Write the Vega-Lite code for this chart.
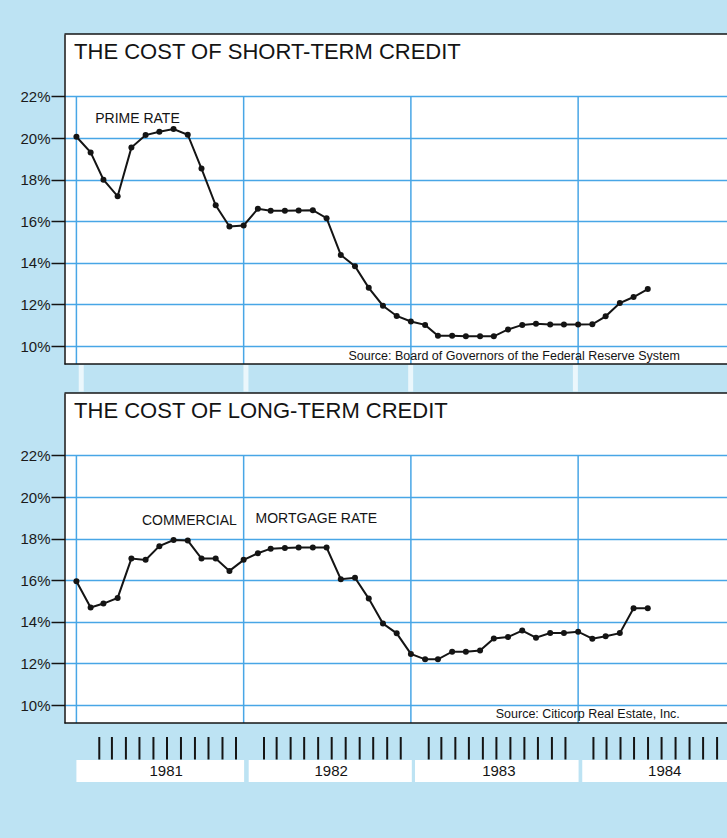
{
  "$schema": "https://vega.github.io/schema/vega-lite/v6.json",
  "background": "#bde3f3",
  "padding": {"left": 19.5, "top": 33, "right": 0, "bottom": 58},
  "config": {
    "view": {"stroke": null},
    "font": "Liberation Sans",
    "text": {"font": "Liberation Sans", "color": "#141414"}
  },
  "datasets": {
    "rates": [
      {"date": "1981-01-01", "prime": 20.06, "mortgage": 15.95},
      {"date": "1981-02-01", "prime": 19.31, "mortgage": 14.69},
      {"date": "1981-03-01", "prime": 18.0, "mortgage": 14.88},
      {"date": "1981-04-01", "prime": 17.2, "mortgage": 15.15},
      {"date": "1981-05-01", "prime": 19.54, "mortgage": 17.04},
      {"date": "1981-06-01", "prime": 20.14, "mortgage": 16.98},
      {"date": "1981-07-01", "prime": 20.3, "mortgage": 17.64},
      {"date": "1981-08-01", "prime": 20.43, "mortgage": 17.93},
      {"date": "1981-09-01", "prime": 20.16, "mortgage": 17.91},
      {"date": "1981-10-01", "prime": 18.53, "mortgage": 17.04},
      {"date": "1981-11-01", "prime": 16.77, "mortgage": 17.04},
      {"date": "1981-12-01", "prime": 15.75, "mortgage": 16.45},
      {"date": "1982-01-01", "prime": 15.8, "mortgage": 16.98},
      {"date": "1982-02-01", "prime": 16.6, "mortgage": 17.3},
      {"date": "1982-03-01", "prime": 16.5, "mortgage": 17.52},
      {"date": "1982-04-01", "prime": 16.5, "mortgage": 17.55},
      {"date": "1982-05-01", "prime": 16.52, "mortgage": 17.57},
      {"date": "1982-06-01", "prime": 16.53, "mortgage": 17.57},
      {"date": "1982-07-01", "prime": 16.15, "mortgage": 17.57},
      {"date": "1982-08-01", "prime": 14.38, "mortgage": 16.05},
      {"date": "1982-09-01", "prime": 13.84, "mortgage": 16.12},
      {"date": "1982-10-01", "prime": 12.8, "mortgage": 15.12},
      {"date": "1982-11-01", "prime": 11.94, "mortgage": 13.92},
      {"date": "1982-12-01", "prime": 11.45, "mortgage": 13.45},
      {"date": "1983-01-01", "prime": 11.18, "mortgage": 12.46},
      {"date": "1983-02-01", "prime": 11.02, "mortgage": 12.2},
      {"date": "1983-03-01", "prime": 10.5, "mortgage": 12.2},
      {"date": "1983-04-01", "prime": 10.5, "mortgage": 12.57},
      {"date": "1983-05-01", "prime": 10.47, "mortgage": 12.57},
      {"date": "1983-06-01", "prime": 10.47, "mortgage": 12.62},
      {"date": "1983-07-01", "prime": 10.47, "mortgage": 13.2},
      {"date": "1983-08-01", "prime": 10.8, "mortgage": 13.27},
      {"date": "1983-09-01", "prime": 11.02, "mortgage": 13.58},
      {"date": "1983-10-01", "prime": 11.07, "mortgage": 13.24},
      {"date": "1983-11-01", "prime": 11.04, "mortgage": 13.46},
      {"date": "1983-12-01", "prime": 11.04, "mortgage": 13.46},
      {"date": "1984-01-01", "prime": 11.04, "mortgage": 13.53},
      {"date": "1984-02-01", "prime": 11.05, "mortgage": 13.19},
      {"date": "1984-03-01", "prime": 11.43, "mortgage": 13.31},
      {"date": "1984-04-01", "prime": 12.07, "mortgage": 13.46},
      {"date": "1984-05-01", "prime": 12.36, "mortgage": 14.66},
      {"date": "1984-06-01", "prime": 12.74, "mortgage": 14.66}
    ],
    "years": [
      {"date": "1981-01-01"},
      {"date": "1982-01-01"},
      {"date": "1983-01-01"},
      {"date": "1984-01-01"}
    ],
    "boxes": [
      {"year": "1981", "start": "1981-01-01", "end": "1982-01-02", "mid": "1981-07-16"},
      {"year": "1982", "start": "1982-01-12", "end": "1983-01-03", "mid": "1982-07-11"},
      {"year": "1983", "start": "1983-01-10", "end": "1984-01-02", "mid": "1983-07-12"},
      {"year": "1984", "start": "1984-01-10", "end": "1984-12-31", "mid": "1984-07-08"}
    ],
    "ticks": [
      {"date": "1981-02-10"}, {"date": "1981-03-10"}, {"date": "1981-04-10"}, {"date": "1981-05-10"},
      {"date": "1981-06-10"}, {"date": "1981-07-10"}, {"date": "1981-08-10"}, {"date": "1981-09-10"},
      {"date": "1981-10-10"}, {"date": "1981-11-10"}, {"date": "1981-12-10"},
      {"date": "1982-02-10"}, {"date": "1982-03-10"}, {"date": "1982-04-10"}, {"date": "1982-05-10"},
      {"date": "1982-06-10"}, {"date": "1982-07-10"}, {"date": "1982-08-10"}, {"date": "1982-09-10"},
      {"date": "1982-10-10"}, {"date": "1982-11-10"}, {"date": "1982-12-10"},
      {"date": "1983-02-10"}, {"date": "1983-03-10"}, {"date": "1983-04-10"}, {"date": "1983-05-10"},
      {"date": "1983-06-10"}, {"date": "1983-07-10"}, {"date": "1983-08-10"}, {"date": "1983-09-10"},
      {"date": "1983-10-10"}, {"date": "1983-11-10"}, {"date": "1983-12-10"},
      {"date": "1984-02-10"}, {"date": "1984-03-10"}, {"date": "1984-04-10"}, {"date": "1984-05-10"},
      {"date": "1984-06-10"}, {"date": "1984-07-10"}, {"date": "1984-08-10"}, {"date": "1984-09-10"},
      {"date": "1984-10-10"}, {"date": "1984-11-10"}
    ],
    "one": [{}]
  },
  "spacing": 13,
  "vconcat": [
    {
      "spacing": 0,
      "vconcat": [
        {
          "width": 663,
          "height": 330,
          "view": {"fill": "white", "stroke": null},
          "layer": [
            {
              "data": {"name": "years"},
              "mark": {"type": "rule", "color": "#48a6e6", "strokeWidth": 1.5},
              "encoding": {
                "x": {"field": "date", "type": "temporal", "axis": null, "scale": {"type": "utc", "domain": [{"year": 1980, "month": 12, "date": 6, "utc": true}, {"year": 1984, "month": 11, "date": 22, "utc": true}], "clamp": true}},
                "y": {"datum": 22, "type": "quantitative", "title": null, "scale": {"domain": [9.14, 25.0], "nice": false, "zero": false}},
                "y2": {"datum": 9.14}
              }
            },
            {
              "data": {"name": "rates"},
              "mark": {"type": "line", "color": "#141414", "strokeWidth": 2, "point": {"filled": true, "size": 36, "color": "#141414"}},
              "encoding": {
                "x": {"field": "date", "type": "temporal", "axis": null},
                "y": {
                  "field": "prime", "type": "quantitative", "title": null,
                  "axis": {"values": [10, 12, 14, 16, 18, 20, 22], "labelExpr": "datum.value + '%'", "title": null, "grid": true, "gridColor": "#48a6e6", "gridWidth": 1.5, "tickColor": "#141414", "tickWidth": 1.5, "tickSize": 13.5, "domainColor": "#141414", "domainWidth": 1.5, "labelFont": "Liberation Sans", "labelFontSize": 15, "labelColor": "#1a1a1a", "labelPadding": 1}
                }
              }
            },
            {
              "data": {"name": "one"},
              "mark": {"type": "rule", "color": "#141414", "strokeWidth": 1.5},
              "encoding": {"y": {"datum": 25.0, "type": "quantitative"}}
            },
            {
              "data": {"name": "one"},
              "mark": {"type": "rule", "color": "#141414", "strokeWidth": 1.5},
              "encoding": {"y": {"datum": 9.14, "type": "quantitative"}}
            },
            {
              "data": {"name": "one"},
              "mark": {"type": "text", "text": "THE COST OF SHORT-TERM CREDIT", "align": "left", "baseline": "alphabetic", "fontSize": 22},
              "encoding": {
                "x": {"datum": {"year": 1980, "month": 12, "date": 27, "utc": true}, "type": "temporal"},
                "y": {"datum": 23.78, "type": "quantitative"}
              }
            },
            {
              "data": {"name": "one"},
              "mark": {"type": "text", "text": "PRIME RATE", "align": "left", "baseline": "alphabetic", "fontSize": 14},
              "encoding": {
                "x": {"datum": {"year": 1981, "month": 2, "date": 11, "utc": true}, "type": "temporal"},
                "y": {"datum": 20.72, "type": "quantitative"}
              }
            },
            {
              "data": {"name": "one"},
              "mark": {"type": "text", "text": "Source: Board of Governors of the Federal Reserve System", "align": "right", "baseline": "alphabetic", "fontSize": 12.5},
              "encoding": {
                "x": {"datum": {"year": 1984, "month": 8, "date": 10, "utc": true}, "type": "temporal"},
                "y": {"datum": 9.31, "type": "quantitative"}
              }
            }
          ]
        },
        {
          "width": 663,
          "height": 26.5,
          "data": {"name": "years"},
          "mark": {"type": "bar", "color": "white", "width": 5, "opacity": 0.7},
          "encoding": {
            "x": {"field": "date", "type": "temporal", "axis": null, "scale": {"type": "utc", "domain": [{"year": 1980, "month": 12, "date": 6, "utc": true}, {"year": 1984, "month": 11, "date": 22, "utc": true}], "clamp": true}}
          }
        },
        {
          "width": 663,
          "height": 330,
          "view": {"fill": "white", "stroke": null},
          "layer": [
            {
              "data": {"name": "years"},
              "mark": {"type": "rule", "color": "#48a6e6", "strokeWidth": 1.5},
              "encoding": {
                "x": {"field": "date", "type": "temporal", "axis": null, "scale": {"type": "utc", "domain": [{"year": 1980, "month": 12, "date": 6, "utc": true}, {"year": 1984, "month": 11, "date": 22, "utc": true}], "clamp": true}},
                "y": {"datum": 22, "type": "quantitative", "title": null, "scale": {"domain": [9.14, 25.0], "nice": false, "zero": false}},
                "y2": {"datum": 9.14}
              }
            },
            {
              "data": {"name": "rates"},
              "mark": {"type": "line", "color": "#141414", "strokeWidth": 2, "point": {"filled": true, "size": 36, "color": "#141414"}},
              "encoding": {
                "x": {"field": "date", "type": "temporal", "axis": null},
                "y": {
                  "field": "mortgage", "type": "quantitative", "title": null,
                  "axis": {"values": [10, 12, 14, 16, 18, 20, 22], "labelExpr": "datum.value + '%'", "title": null, "grid": true, "gridColor": "#48a6e6", "gridWidth": 1.5, "tickColor": "#141414", "tickWidth": 1.5, "tickSize": 13.5, "domainColor": "#141414", "domainWidth": 1.5, "labelFont": "Liberation Sans", "labelFontSize": 15, "labelColor": "#1a1a1a", "labelPadding": 1}
                }
              }
            },
            {
              "data": {"name": "one"},
              "mark": {"type": "rule", "color": "#141414", "strokeWidth": 1.5},
              "encoding": {"y": {"datum": 25.0, "type": "quantitative"}}
            },
            {
              "data": {"name": "one"},
              "mark": {"type": "rule", "color": "#141414", "strokeWidth": 1.5},
              "encoding": {"y": {"datum": 9.14, "type": "quantitative"}}
            },
            {
              "data": {"name": "one"},
              "mark": {"type": "text", "text": "THE COST OF LONG-TERM CREDIT", "align": "left", "baseline": "alphabetic", "fontSize": 22},
              "encoding": {
                "x": {"datum": {"year": 1980, "month": 12, "date": 27, "utc": true}, "type": "temporal"},
                "y": {"datum": 23.78, "type": "quantitative"}
              }
            },
            {
              "data": {"name": "one"},
              "mark": {"type": "text", "text": "COMMERCIAL", "align": "left", "baseline": "alphabetic", "fontSize": 14},
              "encoding": {
                "x": {"datum": {"year": 1981, "month": 5, "date": 24, "utc": true}, "type": "temporal"},
                "y": {"datum": 18.67, "type": "quantitative"}
              }
            },
            {
              "data": {"name": "one"},
              "mark": {"type": "text", "text": "MORTGAGE RATE", "align": "left", "baseline": "alphabetic", "fontSize": 14},
              "encoding": {
                "x": {"datum": {"year": 1982, "month": 1, "date": 27, "utc": true}, "type": "temporal"},
                "y": {"datum": 18.75, "type": "quantitative"}
              }
            },
            {
              "data": {"name": "one"},
              "mark": {"type": "text", "text": "Source: Citicorp Real Estate, Inc.", "align": "right", "baseline": "alphabetic", "fontSize": 12.5},
              "encoding": {
                "x": {"datum": {"year": 1984, "month": 8, "date": 10, "utc": true}, "type": "temporal"},
                "y": {"datum": 9.4, "type": "quantitative"}
              }
            }
          ]
        }
      ]
    },
    {
      "spacing": 0,
      "vconcat": [
        {
          "width": 663,
          "height": 22.5,
          "data": {"name": "ticks"},
          "mark": {"type": "bar", "color": "#141414", "width": 2},
          "encoding": {
            "x": {"field": "date", "type": "temporal", "axis": null, "scale": {"type": "utc", "domain": [{"year": 1980, "month": 12, "date": 6, "utc": true}, {"year": 1984, "month": 11, "date": 22, "utc": true}], "clamp": true}}
          }
        },
        {
          "width": 663,
          "height": 22,
          "data": {"name": "boxes"},
          "layer": [
            {
              "mark": {"type": "rect", "color": "white"},
              "encoding": {
                "x": {"field": "start", "type": "temporal", "axis": null, "scale": {"type": "utc", "domain": [{"year": 1980, "month": 12, "date": 6, "utc": true}, {"year": 1984, "month": 11, "date": 22, "utc": true}], "clamp": true}},
                "x2": {"field": "end"}
              }
            },
            {
              "mark": {"type": "text", "fontSize": 15, "baseline": "middle", "align": "center"},
              "encoding": {
                "x": {"field": "mid", "type": "temporal", "axis": null},
                "text": {"field": "year"}
              }
            }
          ]
        }
      ]
    }
  ]
}
